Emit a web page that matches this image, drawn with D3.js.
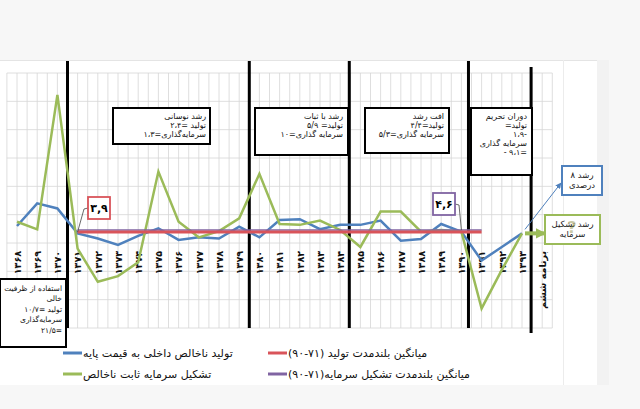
<!DOCTYPE html>
<meta charset="utf-8">
<style>
body { margin: 0; background: #f7f7f7; }
svg { display: block; font-family: "DejaVu Sans", sans-serif; }
.rtl { direction: rtl; }
</style>
<svg width="640" height="409"></svg>
<script src="https://d3js.org/d3.v7.min.js"></script>
<script>

// years on the category axis and their labels
var years = [1368, 1369, 1370, 1371, 1372, 1373, 1374, 1375, 1376, 1377, 1378, 1379, 1380,
             1381, 1382, 1383, 1384, 1385, 1386, 1387, 1388, 1389, 1390, 1391, 1392, 1393];
var yearLabels = ["۱۳۶۸", "۱۳۶۹", "۱۳۷۰", "۱۳۷۱", "۱۳۷۲", "۱۳۷۳", "۱۳۷۴", "۱۳۷۵", "۱۳۷۶",
                  "۱۳۷۷", "۱۳۷۸", "۱۳۷۹", "۱۳۸۰", "۱۳۸۱", "۱۳۸۲", "۱۳۸۳", "۱۳۸۴", "۱۳۸۵",
                  "۱۳۸۶", "۱۳۸۷", "۱۳۸۸", "۱۳۸۹", "۱۳۹۰", "۱۳۹۱", "۱۳۹۲", "۱۳۹۳"];
var planYear = 1394;
var planLabel = "برنامه ششم";

// growth rates (%)
var gdp  = [6.0, 14.0, 12.2, 3.4, 1.6, -0.7, 2.5, 5.2, 1.1, 2.0, 1.6, 5.8, 2.0,
            8.1, 8.4, 4.9, 6.4, 6.4, 7.9, 0.8, 1.4, 6.7, 4.0, -6.2, -1.4, 3.4];
var gfcf = [7.5, 4.8, 52.3, -2.0, -13.7, -11.7, -6.8, 25.2, 7.5, 2.0, 4.2, 8.7, 24.4,
            6.7, 6.4, 7.9, 4.6, -1.4, 11.1, 11.1, 4.0, 4.6, 4.0, -23.1, -9.5, 3.4];

// long run averages 71-90
var avgGdp = 3.9, avgGfcf = 4.6;
var avgYears = [1371, 1391];
var avgGdpLabel = "۳,۹", avgGfcfLabel = "۴,۶";

// period separators
var periodBreaks = [1370.5, 1379.5, 1384.45, 1390.35];
var planBreak = 1393.45;

var yTicks = [-30, -20, -10, 0, 10, 20, 30, 40, 50, 60];

var seriesNames = ["تولید ناخالص داخلی به قیمت پایه", "تشکیل سرمایه ثابت ناخالص"];
var avgNames = ["میانگین بلندمدت  تولید (٧١-٩٠)", "میانگین بلندمدت  تشکیل سرمایه(٧١-٩٠)"];

var note1 = ["رشد نوسانی", "تولید =۲،۴", "سرمایه‌گذاری=۱،۳"];
var note2 = ["رشد با ثبات", "تولید= ۵/۹", "سرمایه گذاری=۱۰"];
var note3 = ["افت رشد", "تولید=۴/۴", "سرمایه گذاری=۵/۳"];
var note4 = ["دوران تحریم", "تولید=", "-۱،۹", "سرمایه گذاری", "=۹،۱ -"];
var note5 = ["استفاده از ظرفیت", "خالی", "تولید =۱۰/۷", "سرمایه‌گذاری", "=۲۱/۵"];
var target1 = ["رشد ۸", "درصدی"];
var target2 = ["رشد تشکیل", "سرمایه"];

var colors = {gdp: "#4f81bd", gfcf: "#9bbb59", avgGdp: "#d9545a", avgGfcf: "#8064a2"};

var svg = d3.select("svg");

var x = d3.scaleLinear().domain([1368, 1394]).range([17, 542.2]);
var y = d3.scaleLinear().domain([-30, 60]).range([328, 73]);

// background panels
svg.append("rect").attr("x", 0).attr("y", 60).attr("width", 597).attr("height", 325).attr("fill", "#fff");
svg.append("rect").attr("x", 597).attr("y", 60).attr("width", 12).attr("height", 325).attr("fill", "#f2f2f2");
svg.append("line").attr("x1", 0).attr("x2", 597).attr("y1", 60.5).attr("y2", 60.5).attr("stroke", "#e4e4e4");
svg.append("line").attr("x1", 563.5).attr("x2", 563.5).attr("y1", 60).attr("y2", 385).attr("stroke", "#ececec");

var g = svg.append("g");

// grid
var gridYears = d3.range(1367.5, 1394.51, 0.5);
g.append("g").selectAll("line").data(gridYears).enter().append("line")
    .attr("x1", function(d) { return x(d); })
    .attr("x2", function(d) { return x(d); })
    .attr("y1", y(60)).attr("y2", y(-30))
    .attr("stroke", "#d6d6d6").attr("stroke-width", 0.8);
g.append("g").selectAll("line").data(yTicks).enter().append("line")
    .attr("x1", x(1367.5)).attr("x2", x(1394.5))
    .attr("y1", function(d) { return y(d); })
    .attr("y2", function(d) { return y(d); })
    .attr("stroke", "#d6d6d6").attr("stroke-width", 0.8);

// period separators
g.append("g").selectAll("line").data(periodBreaks).enter().append("line")
    .attr("x1", function(d) { return x(d); })
    .attr("x2", function(d) { return x(d); })
    .attr("y1", 61).attr("y2", 328)
    .attr("stroke", "#000").attr("stroke-width", 3);
g.append("line")
    .attr("x1", x(planBreak)).attr("x2", x(planBreak))
    .attr("y1", 67).attr("y2", 333)
    .attr("stroke", "#000").attr("stroke-width", 3);

// year labels
var axis = g.append("g")
    .attr("transform", "translate(0," + (y(0) + 8) + ")")
    .call(d3.axisBottom(x)
      .tickValues(years.concat([planYear]))
      .tickSize(0)
      .tickFormat(function(d, i) { return i < yearLabels.length ? yearLabels[i] : planLabel; }));
axis.select(".domain").remove();
axis.selectAll("text")
    .attr("transform", "rotate(-90)")
    .attr("x", 0).attr("y", 0).attr("dy", "0.35em")
    .attr("text-anchor", "end")
    .attr("font-family", "DejaVu Sans")
    .attr("font-size", 9.5)
    .attr("font-weight", "bold")
    .attr("fill", "#111");

// series
var line = d3.line()
    .x(function(d, i) { return x(years[i]); })
    .y(function(d) { return y(d); });

g.append("path").datum(gdp).attr("d", line)
    .attr("fill", "none").attr("stroke", colors.gdp).attr("stroke-width", 2.5);
g.append("path").datum(gfcf).attr("d", line)
    .attr("fill", "none").attr("stroke", colors.gfcf).attr("stroke-width", 2.5);

// averages
g.append("line")
    .attr("x1", x(avgYears[0])).attr("x2", x(avgYears[1]))
    .attr("y1", y(avgGfcf)).attr("y2", y(avgGfcf))
    .attr("stroke", colors.avgGfcf).attr("stroke-width", 1.5);
g.append("line")
    .attr("x1", x(avgYears[0])).attr("x2", x(avgYears[1]))
    .attr("y1", y(avgGdp)).attr("y2", y(avgGdp))
    .attr("stroke", colors.avgGdp).attr("stroke-width", 3);

// value callouts
function callout(bx, by, label, color, px, py, side) {
  var w = 22, h = 22;
  var ex = side < 0 ? bx : bx + w;
  g.append("path")
      .attr("d", "M" + ex + "," + (by + h / 2) + "L" + (ex + side * 4) + "," + (by + h / 2 + 1) + "L" + px + "," + py)
      .attr("fill", "none").attr("stroke", "#444").attr("stroke-width", 0.8);
  g.append("rect").attr("x", bx).attr("y", by).attr("width", w).attr("height", h)
      .attr("fill", "#fff").attr("stroke", color).attr("stroke-width", 1.8);
  g.append("text").attr("x", bx + w / 2).attr("y", by + h / 2).attr("dy", "0.35em")
      .attr("text-anchor", "middle").attr("font-size", 11).attr("font-weight", "bold")
      .text(label);
}
callout(88, 197, avgGdpLabel, colors.avgGdp, x(avgYears[0]), y(avgGdp), -1);
callout(433, 193, avgGfcfLabel, colors.avgGfcf, x(1390), y(avgGfcf), 1);

// annotation boxes
function note(x0, y0, x1, y1, lines, rightPad, firstY, step, size) {
  g.append("rect").attr("x", x0).attr("y", y0).attr("width", x1 - x0).attr("height", y1 - y0)
      .attr("fill", "#fff").attr("stroke", "#000").attr("stroke-width", 2);
  g.append("g").selectAll("text").data(lines).enter().append("text")
      .attr("class", "rtl")
      .attr("x", x1 - rightPad)
      .attr("y", function(d, i) { return firstY + i * step; })
      .attr("dy", "0.35em")
      .attr("text-anchor", "start")
      .attr("font-size", size || 8)
      .attr("fill", "#111")
      .text(function(d) { return d; });
}
note(113, 108, 210, 144, note1, 4, 116, 9.3);
note(255, 108, 348, 155, note2, 5, 116, 9.3);
note(365, 108, 449, 153, note3, 5, 116, 9);
note(471, 108, 532, 175, note4, 5, 116, 9);
note(0, 279, 66, 347, note5, 4, 288, 10.5, 7.5);

// sixth plan targets
var defs = svg.append("defs");
defs.append("marker").attr("id", "ab").attr("viewBox", "0 0 10 10").attr("refX", 9).attr("refY", 5)
    .attr("markerWidth", 6).attr("markerHeight", 6).attr("orient", "auto")
  .append("path").attr("d", "M0,0L10,5L0,10z").attr("fill", colors.gdp);
defs.append("marker").attr("id", "ag").attr("viewBox", "0 0 10 10").attr("refX", 8).attr("refY", 5)
    .attr("markerWidth", 2.6).attr("markerHeight", 2.6).attr("orient", "auto")
  .append("path").attr("d", "M0,0L10,5L0,10z").attr("fill", colors.gfcf);

var lastX = x(years[years.length - 1]), lastGdp = y(gdp[gdp.length - 1]), lastGfcf = y(gfcf[gfcf.length - 1]);
g.append("line").attr("x1", lastX + 3).attr("y1", lastGdp - 4).attr("x2", 561).attr("y2", 183)
    .attr("stroke", colors.gdp).attr("stroke-width", 1).attr("marker-end", "url(#ab)");
g.append("line").attr("x1", lastX + 3).attr("y1", lastGfcf).attr("x2", 544).attr("y2", lastGfcf)
    .attr("stroke", colors.gfcf).attr("stroke-width", 4).attr("marker-end", "url(#ag)");

function target(x0, y0, x1, y1, lines, color) {
  g.append("rect").attr("x", x0).attr("y", y0).attr("width", x1 - x0).attr("height", y1 - y0)
      .attr("fill", "#fff").attr("stroke", color).attr("stroke-width", 2);
  g.append("g").selectAll("text").data(lines).enter().append("text")
      .attr("x", (x0 + x1) / 2)
      .attr("y", function(d, i) { return y0 + (y1 - y0) / 2 + (i - 0.5) * 10; })
      .attr("dy", "0.35em")
      .attr("text-anchor", "middle")
      .attr("font-size", 8.5)
      .attr("fill", "#222")
      .text(function(d) { return d; });
}
target(562, 166, 602, 195, target1, colors.gdp);
target(545, 215, 600, 244, target2, colors.gfcf);
g.append("text").attr("x", 572).attr("y", 233).attr("text-anchor", "middle")
    .attr("font-size", 16).attr("font-weight", "bold").attr("fill", "#8a8a3a").attr("opacity", 0.45)
    .text("?");

// legend
var legendItems = [
  {name: seriesNames[0], color: colors.gdp, x: 63, y: 353},
  {name: avgNames[0], color: colors.avgGdp, x: 268, y: 353},
  {name: seriesNames[1], color: colors.gfcf, x: 63, y: 374},
  {name: avgNames[1], color: colors.avgGfcf, x: 268, y: 374}
];
var legend = svg.append("g").selectAll("g").data(legendItems).enter().append("g")
    .attr("transform", function(d) { return "translate(" + d.x + "," + d.y + ")"; });
legend.append("line").attr("x1", 0).attr("x2", 19).attr("y1", 0).attr("y2", 0)
    .attr("stroke", function(d) { return d.color; }).attr("stroke-width", 3);
legend.append("text")
    .attr("class", "rtl")
    .attr("x", 20)
    .attr("dy", "0.35em")
    .attr("text-anchor", "end")
    .attr("font-size", 11)
    .attr("fill", "#111")
    .text(function(d) { return d.name; });

</script>
